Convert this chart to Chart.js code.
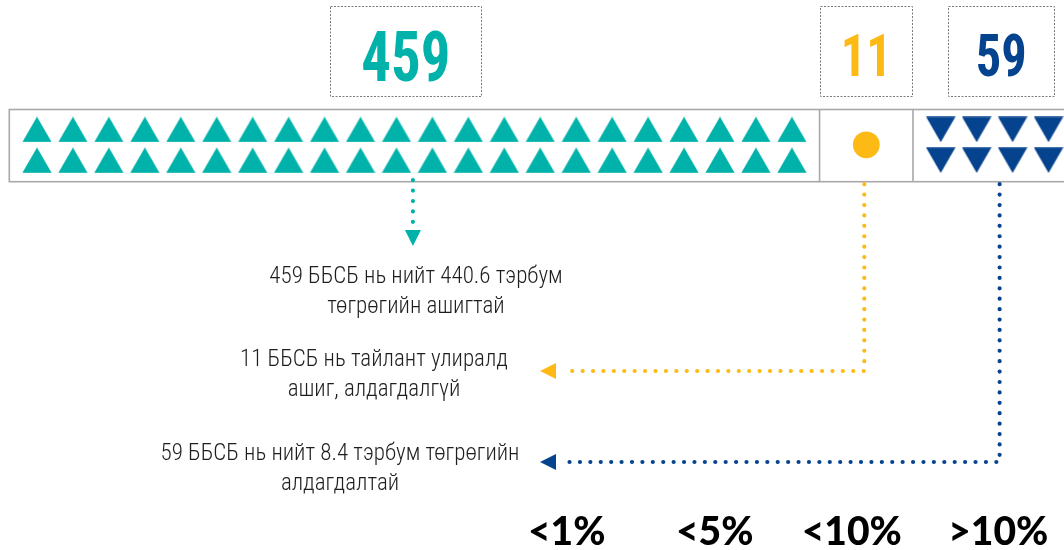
<!DOCTYPE html>
<html>
<head>
<meta charset="utf-8">
<script src="https://cdn.jsdelivr.net/npm/chart.js@4.4.1/dist/chart.umd.min.js"></script>
<style>
  html, body { margin: 0; padding: 0; background: #fff; }
  canvas { display: block; }
</style>
</head>
<body>
<canvas id="chart" width="1064" height="550"></canvas>
<script>
// ---- data -------------------------------------------------------------
// NBFIs grouped by their result for the reporting quarter
const groupKeys = ['profit', 'breakEven', 'loss'];
const institutionCounts = [459, 11, 59];
const iconCounts = [44, 1, 8];            // pictogram icons per group
const amountsBn = [440.6, null, 8.4];     // total profit / loss, bn MNT
const ratioLabels = ['<1%', '<5%', '<10%', '>10%'];

const noteLines = [
  [`${institutionCounts[0]} ББСБ нь нийт ${amountsBn[0]} тэрбум`, 'төгрөгийн ашигтай'],
  [`${institutionCounts[1]} ББСБ нь тайлант улиралд`, 'ашиг, алдагдалгүй'],
  [`${institutionCounts[2]} ББСБ нь нийт ${amountsBn[2]} тэрбум төгрөгийн`, 'алдагдалтай']
];

// ---- style ------------------------------------------------------------
const groupColors = ['#00B2A9', '#FDBA14', '#06438F'];
const iconShapes = ['up', 'circle', 'down'];
const ICON_ROWS = 2;
const CELL_PAD = 0.27;     // slot units around the icons inside a cell
const MIN_CELL = 2.6;      // narrowest cell, slot units
const X_START = -0.77;
const X_END = 28.57;
const Y_MIN = -0.65, Y_MAX = 1.70;

const numberBox = { top: 6.5, height: 90, widths: [151, 92, 106], dx: [-8.5, 0, 6.6] };
const numberFont = [70, 60, 60];
const numberBaseline = [81, 76, 76];
const NUMBER_STRETCH = 0.84;   // condensed look for the big counts
const connectorDx = [-1.5, -2, 5];
const connectorTurnY = [null, 371, 462];
const arrowTipX = 540;
const noteCenterX = [416, 374, 340];
const noteBaseline = [283, 366, 460];
const NOTE_LINE_H = 30;
const ratioCenterX = [566.7, 714.7, 851.7, 998.3];
const RATIO_BASELINE = 545;

// ---- icon layout (slot units on x, row units on y) ----------------------
function layoutGroups() {
  let start = X_START;
  return iconCounts.map((n) => {
    const cols = Math.ceil(n / ICON_ROWS);
    const width = Math.max(cols + 2 * CELL_PAD, MIN_CELL);
    const first = start + (width - cols) / 2 + 0.5;
    const pts = [];
    for (let i = 0; i < n; i++) {
      const col = Math.floor(i / ICON_ROWS);
      const inCol = Math.min(ICON_ROWS, n - col * ICON_ROWS);
      const row = (i % ICON_ROWS) + (ICON_ROWS - inCol) / 2;
      pts.push({ x: first + col, y: row });
    }
    const cell = { from: start, to: start + width, center: first + (cols - 1) / 2 };
    start += width;
    return { pts, cell };
  });
}
const groups = layoutGroups();

function triangleIcon(color, down) {
  const w = 30, h = 26;
  const c = document.createElement('canvas');
  c.width = w; c.height = h;
  const g = c.getContext('2d');
  g.fillStyle = color;
  g.beginPath();
  if (down) { g.moveTo(0.3, 0.3); g.lineTo(w - 0.3, 0.3); g.lineTo(w / 2, h - 0.2); }
  else { g.moveTo(0.3, h - 0.3); g.lineTo(w / 2, 0.2); g.lineTo(w - 0.3, h - 0.3); }
  g.closePath();
  g.fill();
  return c;
}

function iconStyle(shape, color) {
  if (shape === 'circle') return 'circle';
  return triangleIcon(color, shape === 'down');
}

const datasets = groups.map((grp, i) => ({
  label: groupKeys[i],
  data: grp.pts,
  pointStyle: iconStyle(iconShapes[i], groupColors[i]),
  pointRadius: iconShapes[i] === 'circle' ? 13.4 : 15,
  pointBackgroundColor: groupColors[i],
  pointBorderWidth: 0,
  pointHoverRadius: iconShapes[i] === 'circle' ? 13.4 : 15,
  showLine: false
}));

// ---- drawing helpers --------------------------------------------------
function dotted(ctx, pts, color) {
  ctx.save();
  ctx.strokeStyle = color;
  ctx.lineWidth = 4.2;
  ctx.lineCap = 'round';
  ctx.lineJoin = 'round';
  ctx.setLineDash([0.01, 10.4]);
  ctx.beginPath();
  ctx.moveTo(pts[0][0], pts[0][1]);
  for (let k = 1; k < pts.length; k++) ctx.lineTo(pts[k][0], pts[k][1]);
  ctx.stroke();
  ctx.restore();
}

function arrowHead(ctx, x, y, dir, color) {
  ctx.save();
  ctx.fillStyle = color;
  ctx.beginPath();
  if (dir === 'down') {
    ctx.moveTo(x - 8, y - 16); ctx.lineTo(x + 8, y - 16); ctx.lineTo(x, y);
  } else {
    ctx.moveTo(x + 16, y - 8); ctx.lineTo(x + 16, y + 8); ctx.lineTo(x, y);
  }
  ctx.closePath();
  ctx.fill();
  ctx.restore();
}

const infographic = {
  id: 'infographic',
  beforeDatasetsDraw(chart) {
    const { ctx, chartArea: a, scales: { x } } = chart;
    ctx.save();
    ctx.strokeStyle = '#A8A8A8';
    ctx.lineWidth = 1.6;
    ctx.strokeRect(a.left, a.top, a.right - a.left + 10, a.bottom - a.top);
    ctx.beginPath();
    groups.slice(0, -1).forEach(g => {
      const px = x.getPixelForValue(g.cell.to);
      ctx.moveTo(px, a.top); ctx.lineTo(px, a.bottom);
    });
    ctx.stroke();
    ctx.restore();
  },
  afterDatasetsDraw(chart) {
    const { ctx, chartArea: a, scales: { x } } = chart;

    groups.forEach((g, i) => {
      const anchor = x.getPixelForValue(g.cell.center);
      const color = groupColors[i];

      // number box
      const bw = numberBox.widths[i];
      const bx = anchor + numberBox.dx[i] - bw / 2;
      ctx.save();
      ctx.strokeStyle = '#7A7A7A';
      ctx.lineWidth = 1;
      ctx.setLineDash([2, 1.5]);
      ctx.strokeRect(Math.round(bx) + 0.5, numberBox.top, Math.round(bw), numberBox.height);
      ctx.setLineDash([]);
      ctx.fillStyle = color;
      ctx.font = `700 ${numberFont[i]}px "Roboto Condensed", Roboto, sans-serif`;
      ctx.textAlign = 'center';
      ctx.textBaseline = 'alphabetic';
      ctx.translate(bx + bw / 2, numberBaseline[i]);
      ctx.scale(NUMBER_STRETCH, 1);
      ctx.fillText(String(institutionCounts[i]), 0, 0);
      ctx.restore();

      // connector
      const cx = anchor + connectorDx[i];
      if (connectorTurnY[i] === null) {
        dotted(ctx, [[cx, a.bottom - 1.5], [cx, 225]], color);
        arrowHead(ctx, cx, 246, 'down', color);
      } else {
        const ty = connectorTurnY[i];
        dotted(ctx, [[cx, a.bottom + 2.5], [cx, ty], [arrowTipX + 22, ty]], color);
        arrowHead(ctx, arrowTipX, ty, 'left', color);
      }

      // note
      ctx.save();
      ctx.fillStyle = '#1E1E1E';
      ctx.font = '300 23px "Roboto Condensed", Roboto, sans-serif';
      ctx.textAlign = 'center';
      noteLines[i].forEach((line, k) => {
        ctx.fillText(line, noteCenterX[i], noteBaseline[i] + k * NOTE_LINE_H);
      });
      ctx.restore();
    });

    // ratio labels
    ctx.save();
    ctx.fillStyle = '#000';
    ctx.font = '900 39px Lato, "Open Sans", sans-serif';
    ctx.textAlign = 'center';
    ratioLabels.forEach((t, k) => ctx.fillText(t, ratioCenterX[k], RATIO_BASELINE));
    ctx.restore();
  }
};

new Chart(document.getElementById('chart'), {
  type: 'scatter',
  data: { datasets },
  options: {
    responsive: false,
    animation: false,
    devicePixelRatio: 1,
    layout: { autoPadding: false, padding: { left: 9.3, right: 0, top: 109.5, bottom: 368.3 } },
    plugins: { legend: { display: false }, tooltip: { enabled: false } },
    events: [],
    scales: {
      x: { type: 'linear', min: X_START, max: X_END, display: false },
      y: { type: 'linear', min: Y_MIN, max: Y_MAX, reverse: true, display: false }
    }
  },
  plugins: [infographic]
});
</script>
</body>
</html>
